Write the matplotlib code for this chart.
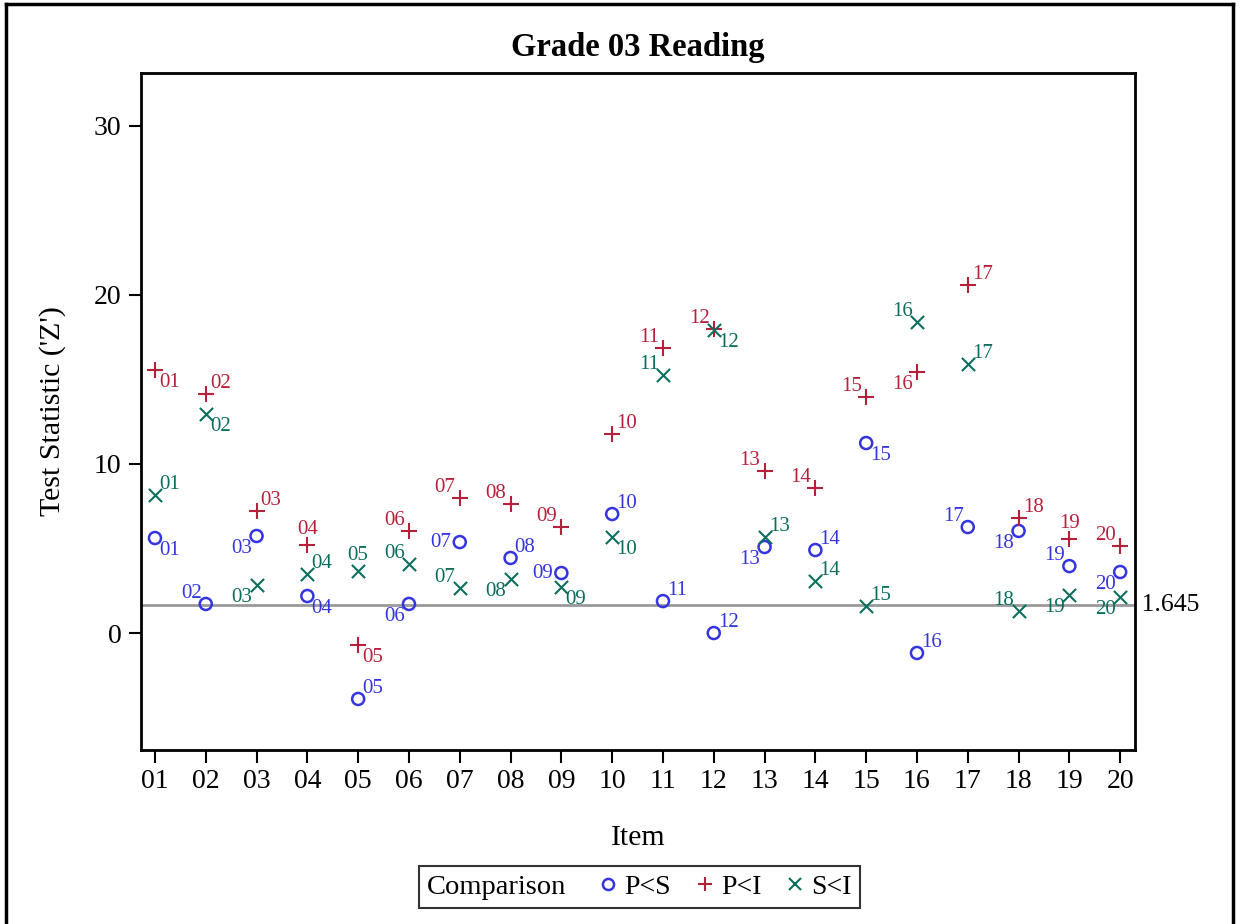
import matplotlib.pyplot as plt
from matplotlib.lines import Line2D
from matplotlib.offsetbox import HPacker

plt.rcParams['font.family'] = ['Liberation Serif', 'DejaVu Serif']

# items
items = ['01', '02', '03', '04', '05', '06', '07', '08', '09', '10',
         '11', '12', '13', '14', '15', '16', '17', '18', '19', '20']

# test statistics
p_lt_s = [5.62, 1.72, 5.74, 2.19, -3.90, 1.72, 5.38, 4.44, 3.55, 7.04,
          1.89, 0.00, 5.09, 4.91, 11.24, -1.18, 6.27, 6.04, 3.96, 3.61]
p_lt_i = [15.56, 14.14, 7.22, 5.21, -0.71, 6.04, 7.99, 7.63, 6.27, 11.78,
          16.86, 17.99, 9.59, 8.58, 13.96, 15.44, 20.59, 6.80, 5.56, 5.15]
s_lt_i = [8.17, 12.96, 2.84, 3.49, 3.67, 4.08, 2.66, 3.20, 2.72, 5.68,
          15.27, 17.93, 5.68, 3.08, 1.60, 18.40, 15.92, 1.30, 2.25, 2.13]

cutoff = 1.645

# where each point label sits relative to its marker
pos_ps = ['lr', 'ul', 'll', 'lr', 'ur', 'll', 'l', 'ur', 'l', 'ur',
          'ur', 'ur', 'll', 'ur', 'lr', 'ur', 'ul', 'll', 'ul', 'll']
pos_pi = ['lr', 'ur', 'ur', 'u', 'lr', 'ul', 'ul', 'ul', 'ul', 'ur',
          'ul', 'ul', 'ul', 'ul', 'ul', 'll', 'ur', 'ur', 'u', 'ul']
pos_si = ['ur', 'lr', 'll', 'ur', 'u', 'ul', 'ul', 'll', 'lr', 'lr',
          'ul', 'lr', 'ur', 'ur', 'ur', 'ul', 'ur', 'ul', 'll', 'll']

blue = '#3535E0'
red = '#B8203A'
green = '#0A6E5C'

fig = plt.figure(figsize=(12.44, 9.24), dpi=100)
ax = fig.add_axes([0.1133, 0.1883, 0.7990, 0.7327])

x = list(range(1, 21))

ax.axhline(cutoff, color='#999999', lw=2, zorder=1)

ax.scatter(x, p_lt_s, marker='o', s=75, facecolors='none', edgecolors=blue, linewidths=1.8, zorder=3)
ax.scatter(x, p_lt_i, marker='+', s=120, color=red, linewidths=1.5, zorder=3)
ax.scatter(x, s_lt_i, marker='x', s=90, color=green, linewidths=1.5, zorder=3)

offs = {
    'ur': ((3, 1), 'left', 'bottom'),
    'lr': ((3, -2), 'left', 'top'),
    'ul': ((-3, 1), 'right', 'bottom'),
    'll': ((-3, -2), 'right', 'top'),
    'l': ((-6, 0), 'right', 'center'),
    'u': ((0, 4), 'center', 'bottom'),
}


def put_labels(ys, poss, col):
    for xi, yi, lab, p in zip(x, ys, items, poss):
        d, ha, va = offs[p]
        ax.annotate(lab, (xi, yi), xytext=d, textcoords='offset points',
                    ha=ha, va=va, color=col, fontsize=15, zorder=4)


put_labels(p_lt_s, pos_ps, blue)
put_labels(p_lt_i, pos_pi, red)
put_labels(s_lt_i, pos_si, green)

ax.set_xlim(0.724, 20.29)
ax.set_ylim(-6.92, 33.13)
ax.set_xticks(x)
ax.set_xticklabels(items)
ax.set_yticks([0, 10, 20, 30])
ax.tick_params(labelsize=20, length=9, width=1.5, direction='out', pad=5)
for sp in ax.spines.values():
    sp.set_linewidth(2)

ax.text(1.0, cutoff, ' 1.645', transform=ax.get_yaxis_transform(),
        ha='left', va='center', fontsize=18.5, clip_on=False)

ax.set_xlabel('Item', fontsize=21.5, labelpad=22)
ax.set_ylabel("Test Statistic ('Z')", fontsize=21.5, labelpad=20)
ax.set_title('Grade 03 Reading', fontsize=23.5, fontweight='bold', pad=12)

handles = [Line2D([], [], marker='o', linestyle='none', markerfacecolor='none',
                  markeredgecolor=blue, markeredgewidth=1.8, markersize=8),
           Line2D([], [], marker='+', linestyle='none', color=red,
                  markeredgewidth=1.5, markersize=10),
           Line2D([], [], marker='x', linestyle='none', color=green,
                  markeredgewidth=1.5, markersize=8)]
labels = ['P<S', 'P<I', 'S<I']
leg = fig.legend(handles, labels, ncol=3, loc='center', bbox_to_anchor=(0.514, 0.040),
                 fontsize=20, title='Comparison', title_fontsize=20.5,
                 frameon=True, fancybox=False, edgecolor='black',
                 handlelength=0.6, handletextpad=0.3, columnspacing=0.9,
                 borderpad=0.25)
leg.get_frame().set_linewidth(1.5)
# put the legend title on the same row as the entries
box = HPacker(children=[leg._legend_title_box, leg._legend_handle_box],
              pad=6, sep=24, align='center')
box.set_figure(fig)
box.set_offset(leg._findoffset)
leg._legend_box = box

# outer frame of the graph
fig.add_artist(Line2D([6 / 1244, 6 / 1244], [0, 1 - 4 / 924], color='black', lw=2.5))
fig.add_artist(Line2D([6 / 1244, 1233 / 1244], [1 - 4 / 924, 1 - 4 / 924], color='black', lw=2.5))
fig.add_artist(Line2D([1233 / 1244, 1233 / 1244], [0, 1 - 4 / 924], color='black', lw=2.5))

fig.savefig('out.png', dpi=100)
